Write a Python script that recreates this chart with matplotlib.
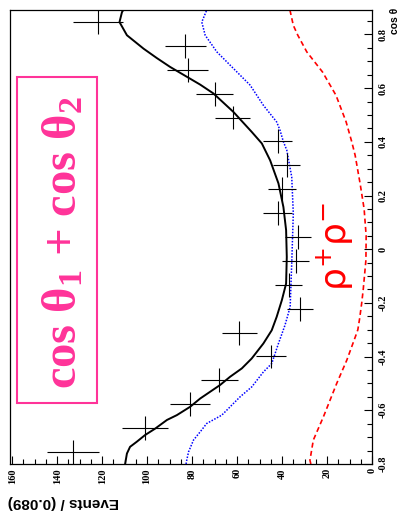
import numpy as np
import matplotlib
matplotlib.use("Agg")
import matplotlib.pyplot as plt
from matplotlib.patches import Rectangle

W, H = 400, 526
PINK = "#ff3399"

# 19 bins in cos(theta), width 0.089, starting at -0.8
BIN_LO = -0.8
BIN_W = 0.089
counts = [133, 101, 81, 68, 45, 59, 32, 37, 34, 33, 42, 40, 38, 42, 62, 70, 82, 83, 122]

# total fit (solid black)
total_cos = [-0.800, -0.761, -0.736, -0.717, -0.692, -0.668, -0.636, -0.618, -0.587,
             -0.556, -0.506, -0.475, -0.444, -0.407, -0.351, -0.302, -0.252, -0.190,
             -0.128, -0.029, 0.071, 0.157, 0.245, 0.331, 0.394, 0.437, 0.511, 0.580,
             0.613, 0.679, 0.712, 0.747, 0.797, 0.846, 0.883, 0.891]
total_val = [109.8, 109.0, 107.6, 104.6, 100.9, 96.4, 91.2, 86.8, 80.9,
             76.4, 67.6, 63.1, 57.9, 53.5, 48.3, 44.6, 42.4, 40.1,
             38.2, 37.9, 38.2, 39.4, 41.6, 45.3, 49.0, 53.5, 61.6, 70.5,
             76.4, 89.8, 95.7, 101.6, 109.0, 112.3, 111.2, 110.6]

# second component (blue dotted)
blue_cos = [-0.800, -0.786, -0.755, -0.711, -0.680, -0.649, -0.618, -0.550, -0.513,
            -0.457, -0.426, -0.351, -0.283, -0.215, -0.053, 0.133, 0.269, 0.369,
            0.400, 0.443, 0.474, 0.536, 0.611, 0.673, 0.735, 0.797, 0.846, 0.891]
blue_val = [82.7, 82.4, 81.6, 79.4, 76.4, 73.5, 66.8, 58.7, 53.5,
            48.3, 44.6, 41.6, 38.7, 36.4, 35.7, 35.0, 35.7, 37.9,
            39.4, 40.9, 42.4, 48.3, 54.2, 61.6, 69.0, 74.2, 75.7, 73.5]

# rho+ rho- component (red dashed)
red_cos = [-0.800, -0.786, -0.711, -0.624, -0.500, -0.413, -0.326, -0.300, -0.258,
           -0.202, -0.150, -0.040, 0.050, 0.150, 0.245, 0.350, 0.400, 0.474,
           0.573, 0.660, 0.735, 0.797, 0.834, 0.891]
red_val = [27.2, 27.6, 26.1, 21.6, 15.7, 11.2, 7.4, 6.3, 5.5,
           4.6, 3.9, 2.7, 2.6, 3.5, 5.3, 7.5, 9.0, 11.5,
           16.0, 22.0, 29.0, 33.0, 35.0, 36.5]

ev_ticks = [0, 20, 40, 60, 80, 100, 120, 140, 160]
cos_ticks = [-0.8, -0.6, -0.4, -0.2, 0, 0.2, 0.4, 0.6, 0.8]


def fx(px):
    return px / W


def fy(py):
    return 1 - py / H


fig = plt.figure(figsize=(W / 100, H / 100), dpi=100)
ax = fig.add_axes([fx(10), fy(464), fx(372) - fx(10), fy(10) - fy(464)])

# events run right-to-left along the horizontal, cos(theta) up the vertical
ax.set_xlim(161, 0)
ax.set_ylim(BIN_LO, BIN_LO + 19 * BIN_W)

centers = BIN_LO + BIN_W * (np.arange(len(counts)) + 0.5)
n = np.array(counts, dtype=float)
ax.errorbar(n, centers, xerr=np.sqrt(n), yerr=BIN_W / 2, fmt="none",
            ecolor="black", elinewidth=0.8, capsize=0, zorder=3)

ax.plot(red_val, red_cos, color="red", lw=1.2, dashes=(3, 2), zorder=2)
ax.plot(blue_val, blue_cos, color="blue", lw=1.1, dashes=(1, 1), zorder=2)
ax.plot(total_val, total_cos, color="black", lw=1.4, zorder=4)

for s in ax.spines.values():
    s.set_linewidth(0.9)

ax.xaxis.set_ticks_position("bottom")
ax.yaxis.set_ticks_position("right")
ax.set_xticks(ev_ticks)
ax.set_xticks(np.arange(0, 161, 5), minor=True)
ax.set_yticks(cos_ticks)
ax.set_yticks(np.arange(-0.8, 0.89, 0.05), minor=True)
ax.tick_params(axis="both", which="major", direction="in", length=6, width=0.8)
ax.tick_params(axis="both", which="minor", direction="in", length=3.5, width=0.8)
ax.tick_params(axis="x", pad=3)
ax.tick_params(axis="y", pad=5)

ax.set_xticklabels([str(v) for v in ev_ticks], rotation=90, va="top", ha="center",
                   family="Liberation Serif", fontweight="bold", fontsize=7.5)
ax.set_yticklabels([f"{v:g}" for v in cos_ticks], rotation=90, va="center", ha="left",
                   family="Liberation Serif", fontweight="bold", fontsize=7.5)

fig.text(fx(8), fy(502), "Events / (0.089)", rotation=180, ha="left", va="center",
         family="Liberation Sans", fontweight="bold", fontsize=11)
fig.text(fx(395), fy(8), "cos θ", rotation=90, ha="center", va="top",
         family="Liberation Sans", fontweight="bold", fontsize=7.5)

# rho+ rho- label
fig.text(fx(335), fy(246), r"$\mathrm{\rho}^{+}\mathrm{\rho}^{-}$", rotation=90,
         ha="center", va="center", color="red", fontsize=26,
         math_fontfamily="dejavusans")

# pink title box
plt.rcParams["mathtext.fontset"] = "custom"
plt.rcParams["mathtext.rm"] = "Liberation Serif:bold"
plt.rcParams["mathtext.it"] = "Liberation Serif:bold"
plt.rcParams["mathtext.bf"] = "Liberation Serif:bold"
fig.patches.append(Rectangle((fx(17), fy(403)), fx(97) - fx(17), fy(77) - fy(403),
                             transform=fig.transFigure, fill=False,
                             edgecolor=PINK, lw=1.5))
fig.text(fx(64), fy(242), r"cos θ$_{1}$ + cos θ$_{2}$", rotation=90,
         ha="center", va="center", color=PINK, family="Liberation Serif",
         fontweight="bold", fontsize=35, math_fontfamily="custom")

fig.savefig("out.png", dpi=100)
